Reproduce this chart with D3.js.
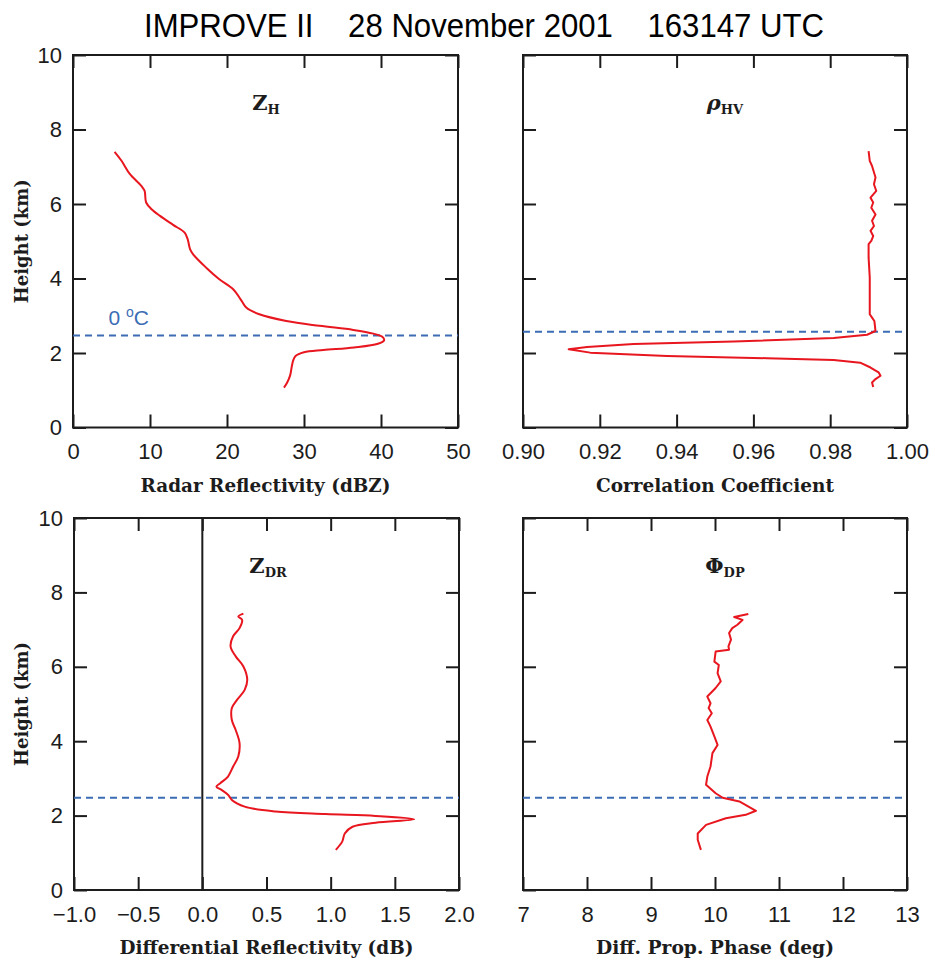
<!DOCTYPE html>
<html>
<head>
<meta charset="utf-8">
<script src="https://cdn.jsdelivr.net/npm/d3@7"></script>
<style>
  body { margin: 0; background: #fff; }
  svg { display: block; }
</style>
</head>
<body>
<div id="chart"></div>
<script>
// tick values for each axis
var heightTicks = [0, 2, 4, 6, 8, 10];
var zhTicks = [0, 10, 20, 30, 40, 50];
var rhoTicks = [0.90, 0.92, 0.94, 0.96, 0.98, 1.00];
var zdrTicks = [-1.0, -0.5, 0.0, 0.5, 1.0, 1.5, 2.0];
var phiTicks = [7, 8, 9, 10, 11, 12, 13];

// reflectivity profile (km, dBZ)
var zhHeight = [7.40, 7.16, 6.80, 6.48, 6.35, 6.04, 5.86, 5.68, 5.44, 5.23, 5.05, 4.79, 4.65, 4.29, 3.98, 3.71, 3.40, 3.22, 3.04, 2.86, 2.73, 2.62, 2.52, 2.43, 2.34, 2.25, 2.15, 2.08, 2.02, 1.92, 1.80, 1.62, 1.40, 1.20, 1.07];
var zhValue = [5.4, 6.3, 7.4, 8.9, 9.3, 9.5, 10.2, 11.3, 13.0, 14.5, 14.9, 15.2, 15.6, 17.3, 19.0, 20.8, 21.9, 22.5, 24.2, 27.7, 32.0, 36.4, 39.0, 40.2, 40.4, 39.6, 36.5, 32.5, 30.0, 28.9, 28.6, 28.4, 28.2, 27.8, 27.4];

// correlation coefficient profile
var rhoHeight = [7.42, 7.16, 7.02, 6.71, 6.53, 6.35, 6.17, 6.04, 5.90, 5.72, 5.55, 5.41, 5.28, 5.14, 5.01, 4.92, 4.56, 4.03, 3.04, 2.95, 2.86, 2.59, 2.49, 2.40, 2.31, 2.24, 2.16, 2.10, 2.01, 1.92, 1.86, 1.81, 1.74, 1.61, 1.48, 1.39, 1.30, 1.21, 1.09];
var rhoValue = [0.9900, 0.9903, 0.9909, 0.9918, 0.9914, 0.9920, 0.9905, 0.9912, 0.9907, 0.9918, 0.9909, 0.9914, 0.9905, 0.9912, 0.9907, 0.9900, 0.9900, 0.9903, 0.9903, 0.9909, 0.9915, 0.9918, 0.9896, 0.9809, 0.9549, 0.9288, 0.9167, 0.9119, 0.9175, 0.9375, 0.9635, 0.9809, 0.9878, 0.9905, 0.9926, 0.9931, 0.9918, 0.9909, 0.9912];

// differential reflectivity profile
var zdrHeight = [7.43, 7.35, 7.26, 7.04, 6.82, 6.55, 6.28, 6.01, 5.65, 5.38, 5.11, 4.89, 4.57, 4.30, 3.95, 3.59, 3.32, 3.05, 2.87, 2.78, 2.69, 2.56, 2.42, 2.24, 2.11, 2.04, 1.99, 1.90, 1.81, 1.70, 1.52, 1.30, 1.08];
var zdrValue = [0.32, 0.28, 0.31, 0.29, 0.24, 0.22, 0.26, 0.32, 0.35, 0.33, 0.27, 0.23, 0.23, 0.26, 0.29, 0.28, 0.24, 0.20, 0.14, 0.11, 0.15, 0.20, 0.23, 0.33, 0.57, 0.96, 1.35, 1.65, 1.35, 1.17, 1.11, 1.09, 1.04];

// differential propagation phase profile
var phiHeight = [7.42, 7.34, 7.26, 7.13, 7.04, 6.91, 6.73, 6.55, 6.46, 6.41, 6.14, 6.05, 5.83, 5.61, 5.43, 5.20, 5.02, 4.89, 4.75, 4.57, 4.39, 4.13, 3.90, 3.68, 3.32, 3.05, 2.83, 2.60, 2.48, 2.38, 2.13, 2.02, 1.93, 1.75, 1.52, 1.35, 1.08];
var phiValue = [10.52, 10.30, 10.43, 10.35, 10.27, 10.22, 10.25, 10.21, 10.22, 10.01, 9.99, 10.06, 10.04, 10.09, 10.01, 9.88, 9.93, 9.90, 9.95, 9.88, 9.93, 9.99, 10.04, 9.96, 9.93, 9.88, 9.86, 10.01, 10.12, 10.38, 10.64, 10.48, 10.17, 9.86, 9.73, 9.73, 9.78];

// melting level (0 C) height in each panel
var zhFreeze = 2.47, rhoFreeze = 2.57, zdrFreeze = 2.48, phiFreeze = 2.48;

var width = 935, height = 961;
var red = "#e8161e", blue = "#3b6cb4", ink = "#1c1c1c";

var svg = d3.select("#chart").append("svg")
  .attr("width", width).attr("height", height);

svg.append("text")
  .attr("x", 484).attr("y", 37)
  .attr("text-anchor", "middle")
  .style("font-family", "Liberation Sans, Arial, sans-serif")
  .style("font-size", "34px")
  .style("white-space", "pre")
  .attr("textLength", 680).attr("lengthAdjust", "spacingAndGlyphs")
  .text("IMPROVE II    28 November 2001    163147 UTC");

var panels = [
  { x0: 73, x1: 458, y0: 55, y1: 427.5, domain: [0, 50], ticks: zhTicks, fmt: d3.format("d"),
    title: "Radar Reflectivity (dBZ)", titleW: 250, h: zhHeight, v: zhValue, freeze: zhFreeze, yLabels: true,
    name: "Z", sub: "H", nameX: 266, smooth: true },
  { x0: 523, x1: 907, y0: 55, y1: 427.5, domain: [0.90, 1.00], ticks: rhoTicks, fmt: d3.format(".2f"),
    title: "Correlation Coefficient", titleW: 238, h: rhoHeight, v: rhoValue, freeze: rhoFreeze, yLabels: false,
    name: "\u03c1", sub: "HV", nameX: 725, italic: true, smooth: false },
  { x0: 74, x1: 459, y0: 518, y1: 890, domain: [-1.0, 2.0], ticks: zdrTicks, fmt: d3.format(".1f"),
    title: "Differential Reflectivity (dB)", titleW: 294, h: zdrHeight, v: zdrValue, freeze: zdrFreeze, yLabels: true,
    name: "Z", sub: "DR", nameX: 268, zeroLine: true, smooth: true },
  { x0: 523, x1: 907, y0: 518, y1: 890, domain: [7, 13], ticks: phiTicks, fmt: d3.format("d"),
    title: "Diff. Prop. Phase (deg)", titleW: 238, h: phiHeight, v: phiValue, freeze: phiFreeze, yLabels: false,
    name: "\u03a6", sub: "DP", nameX: 725, smooth: false }
];

var tickFont = "Liberation Sans, Arial, sans-serif";
var serif = "DejaVu Serif Condensed, DejaVu Serif, serif";

panels.forEach(function (p, i) {
  var x = d3.scaleLinear().domain(p.domain).range([p.x0, p.x1]);
  var y = d3.scaleLinear().domain([0, 10]).range([p.y1, p.y0]);
  var g = svg.append("g");

  function style(ax) {
    ax.select(".domain").remove();
    ax.selectAll(".tick line").attr("stroke", ink).attr("stroke-width", 2);
    ax.selectAll("text").attr("fill", ink)
      .style("font-family", tickFont).style("font-size", "22px");
  }

  g.append("g").attr("transform", "translate(0," + p.y1 + ")")
    .call(d3.axisBottom(x).tickValues(p.ticks).tickFormat(p.fmt)
      .tickSizeInner(-13).tickSizeOuter(0).tickPadding(16))
    .call(style);
  g.append("g").attr("transform", "translate(0," + p.y0 + ")")
    .call(d3.axisTop(x).tickValues(p.ticks).tickFormat("")
      .tickSizeInner(-13).tickSizeOuter(0))
    .call(style);
  g.append("g").attr("transform", "translate(" + p.x0 + ",0)")
    .call(d3.axisLeft(y).tickValues(heightTicks).tickFormat(p.yLabels ? d3.format("d") : "")
      .tickSizeInner(-13).tickSizeOuter(0).tickPadding(11))
    .call(style);
  g.append("g").attr("transform", "translate(" + p.x1 + ",0)")
    .call(d3.axisRight(y).tickValues(heightTicks).tickFormat("")
      .tickSizeInner(-13).tickSizeOuter(0))
    .call(style);

  g.append("rect")
    .attr("x", p.x0).attr("y", p.y0)
    .attr("width", p.x1 - p.x0).attr("height", p.y1 - p.y0)
    .attr("fill", "none").attr("stroke", ink).attr("stroke-width", 2);

  if (p.zeroLine) {
    g.append("line")
      .attr("x1", x(0)).attr("x2", x(0)).attr("y1", p.y0).attr("y2", p.y1)
      .attr("stroke", ink).attr("stroke-width", 2);
  }

  // melting level
  g.append("line")
    .attr("x1", p.x0).attr("x2", p.x1)
    .attr("y1", y(p.freeze)).attr("y2", y(p.freeze))
    .attr("stroke", blue).attr("stroke-width", 2)
    .attr("stroke-dasharray", "7,5");

  if (i === 0) {
    var t = g.append("text")
      .attr("x", x(4.6)).attr("y", y(p.freeze) - 10)
      .attr("fill", blue)
      .style("font-family", tickFont).style("font-size", "21px");
    t.append("tspan").text("0 ");
    t.append("tspan").attr("dy", -8).style("font-size", "14px").text("o");
    t.append("tspan").attr("dy", 8).text("C");
  }

  var pts = p.h.map(function (hh, k) { return [p.v[k], hh]; });
  var line = d3.line()
    .x(function (d) { return x(d[0]); })
    .y(function (d) { return y(d[1]); })
    .curve(p.smooth ? d3.curveCatmullRom.alpha(0.5) : d3.curveLinear);
  g.append("path").datum(pts)
    .attr("d", line)
    .attr("fill", "none").attr("stroke", red).attr("stroke-width", 2)
    .attr("stroke-linejoin", "round");

  // panel variable name
  var nm = g.append("text")
    .attr("x", p.nameX).attr("y", p.y0 + 55)
    .attr("text-anchor", "middle").attr("fill", ink)
    .style("font-family", "DejaVu Serif, serif").style("font-weight", "bold");
  nm.append("tspan").style("font-size", "21px")
    .style("font-style", p.italic ? "italic" : "normal").text(p.name);
  nm.append("tspan").attr("dy", 4).style("font-size", "13px").text(p.sub);

  // axis titles
  g.append("text")
    .attr("x", (p.x0 + p.x1) / 2).attr("y", p.y1 + 64)
    .attr("text-anchor", "middle").attr("fill", ink)
    .style("font-family", serif).style("font-size", "19px").style("font-weight", "bold")
    .attr("textLength", p.titleW).attr("lengthAdjust", "spacingAndGlyphs")
    .text(p.title);

  if (p.yLabels) {
    g.append("text")
      .attr("transform", "translate(28," + ((p.y0 + p.y1) / 2) + ") rotate(-90)")
      .attr("text-anchor", "middle").attr("fill", ink)
      .style("font-family", serif).style("font-size", "19px").style("font-weight", "bold")
      .attr("textLength", 124).attr("lengthAdjust", "spacingAndGlyphs")
      .text("Height (km)");
  }
});
</script>
</body>
</html>
